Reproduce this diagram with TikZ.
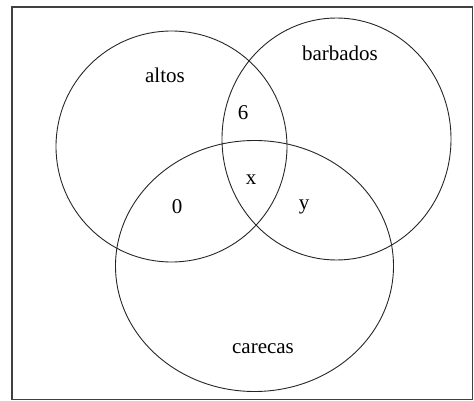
\documentclass[tikz,border=0pt]{standalone}
\usepackage{fontspec}
\setmainfont{Liberation Serif}
\usetikzlibrary{positioning, shapes.geometric}
\tikzset{
    set ellipse/.style={ellipse, draw=black!85, line width=0.9pt, inner sep=0pt},
    set label/.style={font=\fontsize{21}{25}\selectfont, inner sep=0pt},
    frame box/.style={draw=black!75, line width=1.3pt},
}

\begin{document}
\begin{tikzpicture}[x=1pt, y=-1pt]
        \useasboundingbox (0,0) rectangle (474,401);

        % Frame
        \draw[frame box] (12,7) rectangle (472.5,399.5);

        % Sets
        \node[set ellipse, minimum width=231pt, minimum height=231pt] (altos) at (171.5,146.5) {};
        \node[set ellipse, minimum width=229pt, minimum height=242pt] (barbados) at (336.5,139) {};
        \node[set ellipse, minimum width=278pt, minimum height=251pt] (carecas) at (254.5,266) {};

        % Labels
        \node[set label] (altos label) at (165,75) {altos};
        \node[set label] (barbados label) at (340,53) {barbados};
        \node[set label] (carecas label) at (263,349) {carecas};

        % Regions
        \node[set label] (ab) at (243,113) {6};
        \node[set label] (abc) at (251,180) {x};
        \node[set label] (ac) at (177,207) {0};
        \node[set label] (bc) at (304,207) {y};
\end{tikzpicture}
\end{document}
